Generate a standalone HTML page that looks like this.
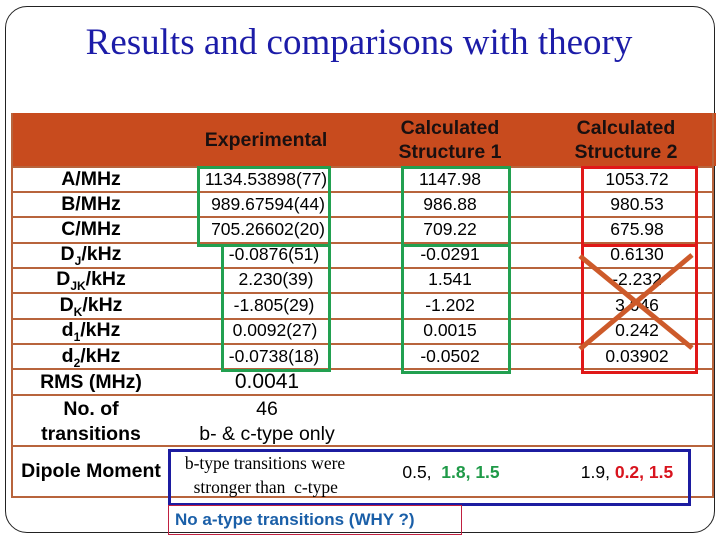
<!DOCTYPE html>
<html><head><meta charset="utf-8"><style>
body{margin:0;width:720px;height:540px;background:#fff;position:relative;overflow:hidden;font-family:"Liberation Sans",Arial,sans-serif}
div{position:absolute;box-sizing:border-box}
.t{white-space:nowrap;text-align:center;transform:translateX(-50%)}
.lab{font-weight:bold;font-size:19.5px;color:#000}
.v{font-size:17.5px;color:#000}
.hl{height:2px;background:#b8643c;left:11px;width:703px}
sub{font-size:12px}
</style></head><body>
<div style="left:5px;top:6px;width:710px;height:527px;border:1.5px solid #222;border-radius:22px"></div>
<div class="t" style="left:359px;top:21px;font-family:'Liberation Serif',serif;font-size:37px;color:#1c1ca8">Results and comparisons with theory</div>
<div style="left:11px;top:113px;width:705px;height:53px;background:#c84b1e"></div>
<div class="t" style="left:266px;top:129px;font-size:19.5px;color:#1a1010;font-weight:bold">Experimental</div>
<div class="t" style="left:450px;top:116px;font-size:19.5px;line-height:24px;color:#1a1010;font-weight:bold">Calculated<br>Structure 1</div>
<div class="t" style="left:626px;top:116px;font-size:19.5px;line-height:24px;color:#1a1010;font-weight:bold">Calculated<br>Structure 2</div>
<div style="left:11px;top:113px;width:2px;height:385px;background:#b8643c"></div>
<div style="left:712px;top:113px;width:2px;height:385px;background:#b8643c"></div>
<div class="hl" style="top:166px"></div>
<div class="hl" style="top:191px"></div>
<div class="hl" style="top:216px"></div>
<div class="hl" style="top:242px"></div>
<div class="hl" style="top:267px"></div>
<div class="hl" style="top:292px"></div>
<div class="hl" style="top:318px"></div>
<div class="hl" style="top:343px"></div>
<div class="hl" style="top:368px"></div>
<div class="hl" style="top:394px"></div>
<div class="hl" style="top:445px"></div>
<div class="hl" style="top:496px"></div>

<div class="t lab" style="left:91px;top:168px">A/MHz</div>
<div class="t lab" style="left:91px;top:193px">B/MHz</div>
<div class="t lab" style="left:91px;top:218px">C/MHz</div>
<div class="t lab" style="left:91px;top:243px">D<sub>J</sub>/kHz</div>
<div class="t lab" style="left:91px;top:268px">D<sub>JK</sub>/kHz</div>
<div class="t lab" style="left:91px;top:294px">D<sub>K</sub>/kHz</div>
<div class="t lab" style="left:91px;top:319px">d<sub>1</sub>/kHz</div>
<div class="t lab" style="left:91px;top:345px">d<sub>2</sub>/kHz</div>
<div class="t lab" style="left:91px;top:371px">RMS (MHz)</div>
<div class="t lab" style="left:91px;top:397px;line-height:25px">No. of<br>transitions</div>
<div class="t lab" style="left:91px;top:460px">Dipole Moment</div>

<div class="t v" style="left:266px;top:169px">1134.53898(77)</div>
<div class="t v" style="left:268px;top:194px">989.67594(44)</div>
<div class="t v" style="left:268px;top:219px">705.26602(20)</div>
<div class="t v" style="left:274px;top:244px">-0.0876(51)</div>
<div class="t v" style="left:276px;top:269px">2.230(39)</div>
<div class="t v" style="left:274px;top:295px">-1.805(29)</div>
<div class="t v" style="left:275px;top:320px">0.0092(27)</div>
<div class="t v" style="left:274px;top:346px">-0.0738(18)</div>
<div class="t" style="left:267px;top:370px;font-size:21px">0.0041</div>
<div class="t" style="left:267px;top:397px;font-size:19.5px;line-height:25px">46<br>b- &amp; c-type only</div>
<div class="t" style="left:265px;top:451px;font-family:'Liberation Serif',serif;font-size:17.5px;line-height:24px;text-align:left">b-type transitions were<br>&nbsp;&nbsp;stronger than&nbsp; c-type</div>

<div class="t v" style="left:450px;top:169px">1147.98</div>
<div class="t v" style="left:450px;top:194px">986.88</div>
<div class="t v" style="left:450px;top:219px">709.22</div>
<div class="t v" style="left:450px;top:244px">-0.0291</div>
<div class="t v" style="left:450px;top:269px">1.541</div>
<div class="t v" style="left:450px;top:295px">-1.202</div>
<div class="t v" style="left:450px;top:320px">0.0015</div>
<div class="t v" style="left:450px;top:346px">-0.0502</div>
<div class="t v" style="left:451px;top:462px">0.5,&nbsp; <b style="color:#1f9a48">1.8, 1.5</b></div>

<div class="t v" style="left:637px;top:169px">1053.72</div>
<div class="t v" style="left:637px;top:194px">980.53</div>
<div class="t v" style="left:637px;top:219px">675.98</div>
<div class="t v" style="left:637px;top:244px">0.6130</div>
<div class="t v" style="left:637px;top:269px">-2.232</div>
<div class="t v" style="left:637px;top:295px">3.046</div>
<div class="t v" style="left:637px;top:320px">0.242</div>
<div class="t v" style="left:637px;top:346px">0.03902</div>
<div class="t v" style="left:627px;top:462px">1.9, <b style="color:#d8141e">0.2, 1.5</b></div>

<div style="left:197px;top:166px;width:134px;height:81px;border:3px solid #22a050"></div>
<div style="left:221px;top:244px;width:110px;height:128px;border:3px solid #22a050"></div>
<div style="left:401px;top:166px;width:110px;height:81px;border:3px solid #22a050"></div>
<div style="left:401px;top:244px;width:110px;height:130px;border:3px solid #22a050"></div>
<div style="left:581px;top:166px;width:117px;height:81px;border:3px solid #e01818"></div>
<div style="left:581px;top:244px;width:117px;height:130px;border:3px solid #e01818"></div>
<svg style="position:absolute;left:0;top:0" width="720" height="540"><g stroke="#cd5a2a" stroke-width="5"><line x1="580" y1="256" x2="692" y2="348"/><line x1="692" y1="255" x2="580" y2="349"/></g></svg>
<div style="left:168px;top:449px;width:523px;height:57px;border:3px solid #1c1ca0"></div>
<div style="left:168px;top:505px;width:294px;height:30px;border:1.5px solid #c02040;color:#1a5fa8;font-weight:bold;font-size:17px;padding:4px 0 0 6px;white-space:nowrap">No a-type transitions (WHY ?)</div>
</body></html>
